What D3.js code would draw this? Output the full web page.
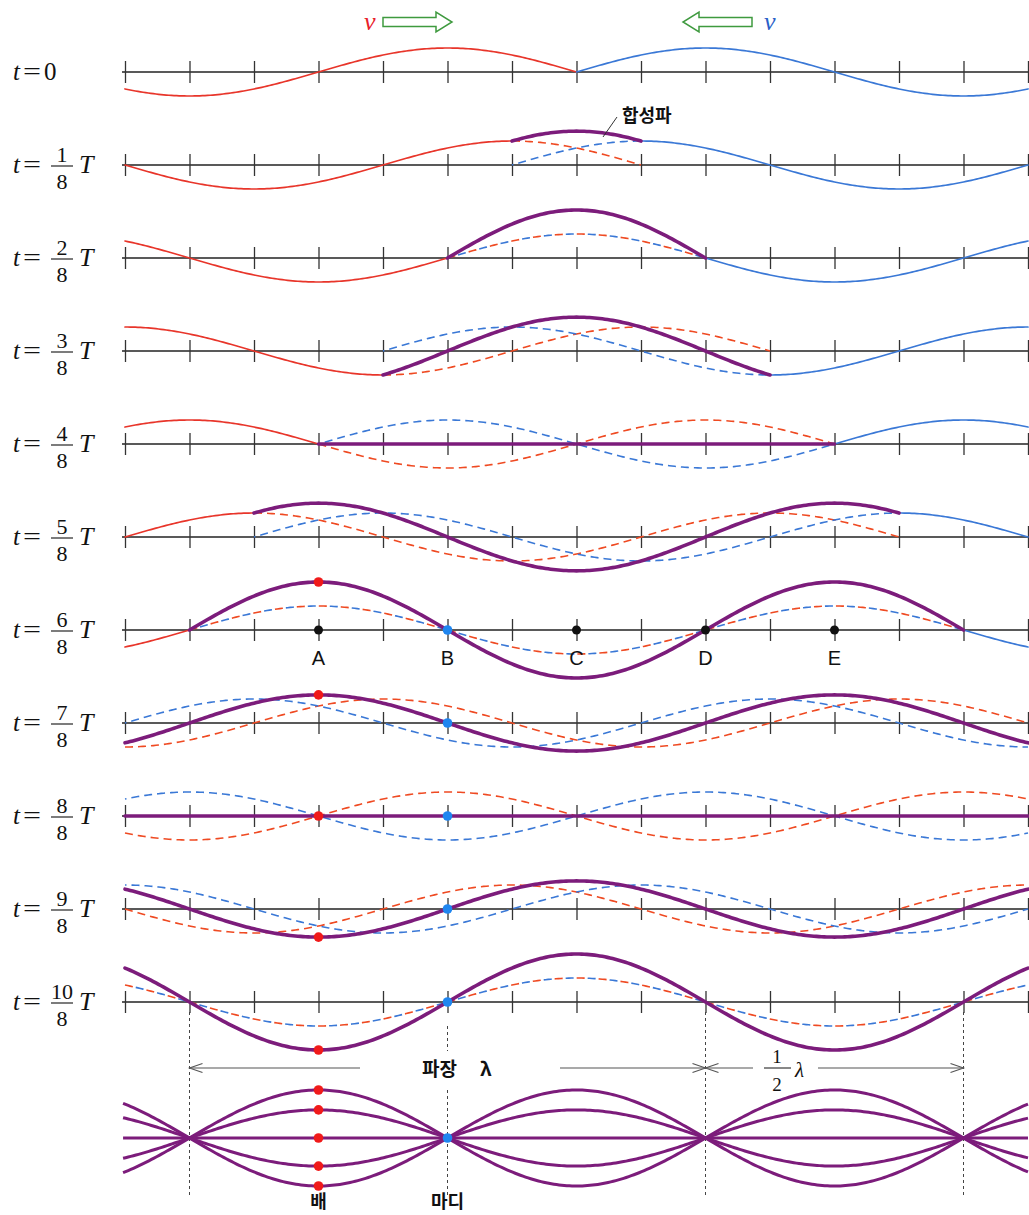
<!DOCTYPE html>
<html><head><meta charset="utf-8">
<script src="https://cdn.jsdelivr.net/npm/d3@7"></script>
<style>body{margin:0;background:#fff}</style>
</head><body>
<svg id="c" width="1029" height="1215" xmlns="http://www.w3.org/2000/svg"></svg>
<script>
// ---------------- data ----------------
const steps = [0, 1, 2, 3, 4, 5, 6, 7, 8, 9, 10];            // t = step/8 T
const stepNumerators = ["0", "1", "2", "3", "4", "5", "6", "7", "8", "9", "10"];
const stepDenominator = "8";
const tickUnits = [0, 1, 2, 3, 4, 5, 6, 7, 8, 9, 10, 11, 12, 13, 14]; // in units of λ/8
const wavelengthTicks = [8];           // λ = 8 ticks
const waveAmplitude = [1];             // amplitude A of each travelling wave
const redZeroTick = [3];               // rising zero of the right-moving (red) wave at t=0
const blueZeroTick = [11];             // zero of the left-moving (blue) wave at t=0
const meetTick = [7];                  // both fronts at t=0 (point C)
// largest displacement of the drawn resultant (in units of A), read per step
const resultantPeak = [0, 1.41, 2, 1.41, 0, 1.41, 2, 1.17, 0, 1.17, 2];
const letterLabels = ["A", "B", "C", "D", "E"];
const letterTicks = [3, 5, 7, 9, 11];
const blackDotTicks = [3, 7, 9, 11];
const antinodeTick = [3];
const nodeTick = [5];
const dotSteps = [6, 7, 8, 9, 10];
const envelopeAmps = [2, 1.17, 0, -1.17, -2];
const nodeTicks = [1, 5, 9, 13];

// ---------------- setup ----------------
const svg = d3.select("#c");
const RED = "#e8352a", RED_D = "#ef4a22", BLUE = "#3a78d6", PURPLE = "#7c1c7b";
const x = d3.scaleLinear().domain([0, 14]).range([125, 1028]);
const rowY = d3.scalePoint().domain(steps).range([72, 1002]);
const yOff = d3.scaleLinear().domain([-1, 1]).range([24, -24]);
const L = wavelengthTicks[0], A = waveAmplitude[0];

const red = (u, k) => A * Math.sin(2 * Math.PI * (u - redZeroTick[0] - k) / L);
const blue = (u, k) => A * Math.sin(2 * Math.PI * (blueZeroTick[0] - u - k) / L);
const exactPeak = k => Math.abs(2 * A * Math.sin(Math.PI * (k - 4) / 4));
const sumWave = (u, k) => {
  const e = exactPeak(k);
  const s = e < 1e-6 ? 0 : resultantPeak[k] / e;
  return (red(u, k) + blue(u, k)) * s;
};
function samples(a, b) { const s = d3.range(a, b, 0.04); s.push(b); return s; }

function drawPath(g, y0, a, b, f, color, width, dash, offset) {
  if (b - a <= 0) return;
  const line = d3.line().x(u => x(u)).y(u => y0 + yOff(f(u)));
  const p = g.append("path").attr("d", line(samples(a, b)))
    .attr("fill", "none").attr("stroke", color).attr("stroke-width", width)
    .attr("stroke-linecap", dash ? "butt" : "round").attr("stroke-linejoin", "round");
  if (dash) p.attr("stroke-dasharray", dash).attr("stroke-dashoffset", offset || 0);
}

const serif = "'Liberation Serif', 'DejaVu Serif', serif";
const sans = "'Liberation Sans', Arial, sans-serif";
const kr = "'Noto Sans CJK KR', 'Noto Sans', sans-serif";

// ---------------- rows ----------------
steps.forEach((k, i) => {
  const y0 = rowY(k);
  const g = svg.append("g");
  g.append("line").attr("x1", 122).attr("x2", 1029).attr("y1", y0).attr("y2", y0)
    .attr("stroke", "#222").attr("stroke-width", 1.5);
  const ax = d3.axisBottom(x).tickValues(tickUnits).tickSize(22).tickFormat("");
  const ag = g.append("g").attr("transform", `translate(0,${y0 - 11})`).call(ax);
  ag.select(".domain").remove();
  ag.selectAll(".tick line").attr("stroke", "#333").attr("stroke-width", 1.3);

  const m = meetTick[0];
  const ovA = Math.max(0, m - k), ovB = Math.min(14, m + k);
  drawPath(g, y0, 0, ovA, u => red(u, k), RED, 1.7);
  drawPath(g, y0, ovB, 14, u => blue(u, k), BLUE, 1.7);
  if (k > 0) {
    const coincide = d3.max(samples(ovA, ovB), u => Math.abs(red(u, k) - blue(u, k))) < 1e-6;
    if (coincide) {
      drawPath(g, y0, ovA, ovB, u => red(u, k), RED_D, 1.6, "8,14", 0);
      drawPath(g, y0, ovA, ovB, u => blue(u, k), BLUE, 1.6, "8,14", 11);
    } else {
      drawPath(g, y0, ovA, ovB, u => red(u, k), RED_D, 1.6, "8,5", 0);
      drawPath(g, y0, ovA, ovB, u => blue(u, k), BLUE, 1.6, "8,5", 6.5);
    }
    drawPath(g, y0, ovA, ovB, u => sumWave(u, k), PURPLE, 3.6);
  }

  const lg = svg.append("g").attr("font-family", serif).attr("fill", "#111");
  lg.append("text").attr("x", 13).attr("y", y0 + 8).attr("font-size", 25)
    .attr("font-style", "italic").text("t");
  lg.append("text").attr("x", 23).attr("y", y0 + 8).attr("font-size", 25)
    .attr("textLength", 18).attr("lengthAdjust", "spacingAndGlyphs").text("=");
  if (k === 0) {
    lg.append("text").attr("x", 44).attr("y", y0 + 8).attr("font-size", 25).text(stepNumerators[i]);
  } else {
    lg.append("text").attr("x", 62).attr("y", y0 - 3).attr("font-size", 22)
      .attr("text-anchor", "middle").text(stepNumerators[i]);
    lg.append("line").attr("x1", 51).attr("x2", 73).attr("y1", y0 + 1).attr("y2", y0 + 1)
      .attr("stroke", "#111").attr("stroke-width", 1.1);
    lg.append("text").attr("x", 62).attr("y", y0 + 24).attr("font-size", 22)
      .attr("text-anchor", "middle").text(stepDenominator);
    lg.append("text").attr("x", 79).attr("y", y0 + 8).attr("font-size", 26)
      .attr("font-style", "italic").text("T");
  }
});

// ---------------- dots & letters ----------------
const y6 = rowY(6);
blackDotTicks.forEach(u => {
  svg.append("circle").attr("cx", x(u)).attr("cy", y6).attr("r", 4.5).attr("fill", "#111");
});
letterLabels.forEach((t, i) => {
  svg.append("text").attr("x", x(letterTicks[i])).attr("y", y6 + 35)
    .attr("text-anchor", "middle").attr("font-family", sans).attr("font-size", 20)
    .attr("fill", "#111").text(t);
});
dotSteps.forEach(k => {
  const y0 = rowY(k);
  const ua = antinodeTick[0], un = nodeTick[0];
  svg.append("circle").attr("cx", x(ua)).attr("cy", y0 + yOff(sumWave(ua, k)))
    .attr("r", 4.8).attr("fill", "#f01a1a");
  svg.append("circle").attr("cx", x(un)).attr("cy", y0 + yOff(sumWave(un, k)))
    .attr("r", 4.8).attr("fill", "#1f86f0");
});

// ---------------- top velocity arrows ----------------
function hollowArrow(x0, x1, cy, dir) {
  const headLen = 16 * dir, bh = 4.5, hh = 10;
  const xb = x1 - headLen;
  const pts = [[x0, cy - bh], [xb, cy - bh], [xb, cy - hh], [x1, cy], [xb, cy + hh], [xb, cy + bh], [x0, cy + bh]];
  svg.append("polygon").attr("points", pts.map(p => p.join(",")).join(" "))
    .attr("fill", "#fff").attr("stroke", "#3f9a3f").attr("stroke-width", 1.5);
}
hollowArrow(383, 452, 22, 1);
hollowArrow(752, 683, 22, -1);
svg.append("text").attr("x", 364).attr("y", 30).attr("font-family", serif).attr("font-style", "italic")
  .attr("font-size", 26).attr("fill", "#e8202a").text("v");
svg.append("text").attr("x", 764).attr("y", 30).attr("font-family", serif).attr("font-style", "italic")
  .attr("font-size", 26).attr("fill", "#2a5fc8").text("v");

svg.append("line").attr("x1", 617).attr("y1", 117).attr("x2", 603).attr("y2", 137)
  .attr("stroke", "#333").attr("stroke-width", 1);
svg.append("text").attr("x", 622).attr("y", 122).attr("font-family", kr).attr("font-weight", 700)
  .attr("font-size", 18).attr("fill", "#111").text("합성파");

// ---------------- bottom standing wave ----------------
const yB = 1138;
const ua = antinodeTick[0];
nodeTicks.forEach(u => {
  const segs = u === nodeTick[0] ? [[1026, 1051], [1090, 1196]] : [[1012, 1196]];
  segs.forEach(s => svg.append("line").attr("x1", x(u)).attr("x2", x(u)).attr("y1", s[0]).attr("y2", s[1])
    .attr("stroke", "#444").attr("stroke-width", 1).attr("stroke-dasharray", "3,3"));
});
envelopeAmps.forEach(a => {
  const line = d3.line().x(u => x(u)).y(u => yB + yOff(a * Math.cos(2 * Math.PI * (u - ua) / L)));
  svg.append("path").attr("d", line(samples(-0.03, 14))).attr("fill", "none")
    .attr("stroke", PURPLE).attr("stroke-width", 3);
});
envelopeAmps.forEach(a => {
  svg.append("circle").attr("cx", x(ua)).attr("cy", yB + yOff(a)).attr("r", 4.8).attr("fill", "#f01a1a");
});
svg.append("circle").attr("cx", x(nodeTick[0])).attr("cy", yB).attr("r", 4.8).attr("fill", "#1f86f0");

const yA = 1068;
function dimLine(x1, x2) {
  svg.append("line").attr("x1", x1).attr("x2", x2).attr("y1", yA).attr("y2", yA)
    .attr("stroke", "#555").attr("stroke-width", 1.1);
}
function head(xt, dir) {
  svg.append("path").attr("d", `M${xt + 13 * dir},${yA - 4.5} L${xt},${yA} L${xt + 13 * dir},${yA + 4.5}`)
    .attr("fill", "none").attr("stroke", "#555").attr("stroke-width", 1.1);
}
dimLine(x(1), 360); head(x(1), 1);
dimLine(560, x(9)); head(x(9), -1);
dimLine(x(9), 753); head(x(9), 1);
dimLine(818, x(13)); head(x(13), -1);
svg.append("text").attr("x", 422).attr("y", 1076).attr("font-family", kr).attr("font-weight", 700)
  .attr("font-size", 19).attr("fill", "#111").text("파장");
svg.append("text").attr("x", 480).attr("y", 1076).attr("font-family", kr).attr("font-weight", 700)
  .attr("font-size", 19).attr("fill", "#111").text("λ");
svg.append("text").attr("x", 777).attr("y", 1063).attr("text-anchor", "middle").attr("font-family", serif)
  .attr("font-size", 19).attr("fill", "#111").text("1");
svg.append("line").attr("x1", 764).attr("x2", 791).attr("y1", 1068).attr("y2", 1068)
  .attr("stroke", "#111").attr("stroke-width", 1);
svg.append("text").attr("x", 777).attr("y", 1091).attr("text-anchor", "middle").attr("font-family", serif)
  .attr("font-size", 19).attr("fill", "#111").text("2");
svg.append("text").attr("x", 795).attr("y", 1077).attr("font-family", serif).attr("font-style", "italic")
  .attr("font-size", 21).attr("fill", "#111").text("λ");

svg.append("text").attr("x", x(ua)).attr("y", 1208).attr("text-anchor", "middle").attr("font-family", kr)
  .attr("font-weight", 700).attr("font-size", 18).attr("fill", "#111").text("배");
svg.append("text").attr("x", x(nodeTick[0])).attr("y", 1208).attr("text-anchor", "middle").attr("font-family", kr)
  .attr("font-weight", 700).attr("font-size", 18).attr("fill", "#111").text("마디");
</script>
</body></html>
